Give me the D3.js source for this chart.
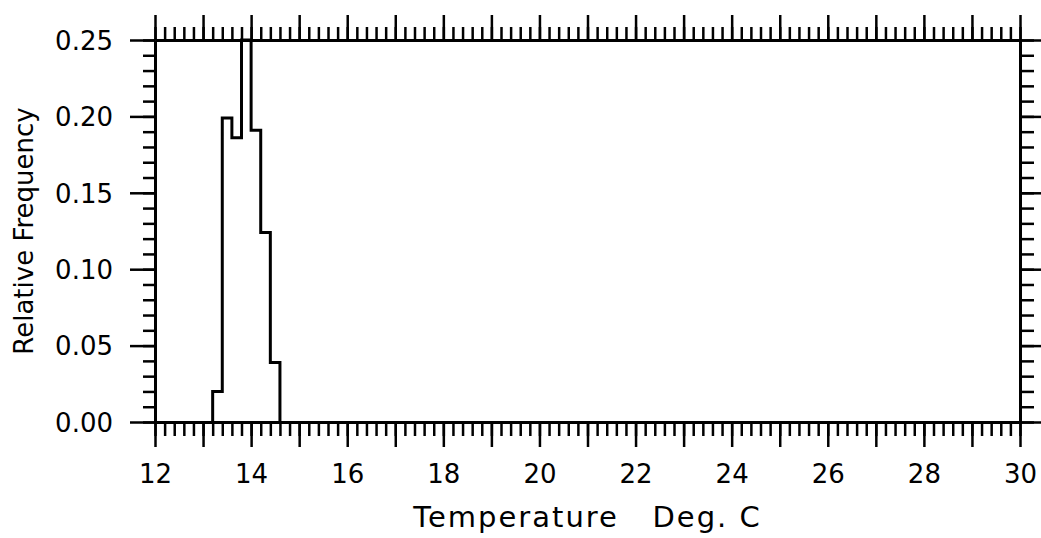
<!DOCTYPE html>
<html>
<head>
<meta charset="utf-8">
<script src="https://cdn.jsdelivr.net/npm/d3@7"></script>
<style>
  html, body { margin: 0; padding: 0; background: #fff; }
  svg { display: block; }
  text { font-family: "DejaVu Sans", sans-serif; fill: #000; }
</style>
</head>
<body>
<svg id="chart" width="1041" height="538"></svg>
<script>
// ---- data ----
const binEdges = [13.2, 13.4, 13.6, 13.8, 14.0, 14.2, 14.4, 14.6];
const relFreq  = [0.020, 0.199, 0.186, 0.250, 0.191, 0.124, 0.039];
const xTickLabels = [12, 14, 16, 18, 20, 22, 24, 26, 28, 30];
const yTickLabels = [0.00, 0.05, 0.10, 0.15, 0.20, 0.25];
const xTitle = "Temperature   Deg. C";
const yTitle = "Relative Frequency";

// ---- layout ----
const L = 155, R = 1020, T = 40, B = 422;
const svg = d3.select("#chart");
const x = d3.scaleLinear().domain([12, 30]).range([L, R]);
const y = d3.scaleLinear().domain([0, 0.25]).range([B, T]);

const xMinor = d3.range(12, 30.0001, 0.2).map(v => +v.toFixed(1));
const xMajor = d3.range(12, 30.0001, 1);
const yMinor = d3.range(0, 0.25001, 0.01).map(v => +v.toFixed(2));
const yMajor = yTickLabels;

function styleAxis(g) {
  g.select(".domain").attr("stroke", "#000").attr("stroke-width", 3);
  g.selectAll(".tick line").attr("stroke", "#000").attr("stroke-width", 2.5);
}

// bottom axis: minor, major (with labels)
svg.append("g").attr("transform", `translate(0,${B})`)
  .call(d3.axisBottom(x).tickValues(xMinor).tickSize(14).tickSizeOuter(0).tickFormat(""))
  .call(styleAxis);
const bx = svg.append("g").attr("transform", `translate(0,${B})`)
  .call(d3.axisBottom(x).tickValues(xMajor).tickSize(25).tickSizeOuter(0)
        .tickFormat(d => xTickLabels.includes(d) ? d3.format("d")(d) : ""))
  .call(styleAxis);
bx.selectAll("text").attr("y", 61).attr("dy", null)
  .style("font-size", "26px").style("font-family", "'DejaVu Sans', sans-serif");

// top axis
svg.append("g").attr("transform", `translate(0,${T})`)
  .call(d3.axisTop(x).tickValues(xMinor).tickSize(13).tickSizeOuter(0).tickFormat(""))
  .call(styleAxis);
svg.append("g").attr("transform", `translate(0,${T})`)
  .call(d3.axisTop(x).tickValues(xMajor).tickSize(25).tickSizeOuter(0).tickFormat(""))
  .call(styleAxis);

// left axis
svg.append("g").attr("transform", `translate(${L},0)`)
  .call(d3.axisLeft(y).tickValues(yMinor).tickSize(12).tickSizeOuter(0).tickFormat(""))
  .call(styleAxis);
const ly = svg.append("g").attr("transform", `translate(${L},0)`)
  .call(d3.axisLeft(y).tickValues(yMajor).tickSize(25).tickPadding(17).tickSizeOuter(0)
        .tickFormat(d3.format(".2f")))
  .call(styleAxis);
ly.selectAll("text").attr("dy", "0.36em")
  .style("font-size", "26px").style("font-family", "'DejaVu Sans', sans-serif");

// right axis
svg.append("g").attr("transform", `translate(${R},0)`)
  .call(d3.axisRight(y).tickValues(yMinor).tickSize(14).tickSizeOuter(0).tickFormat(""))
  .call(styleAxis);
svg.append("g").attr("transform", `translate(${R},0)`)
  .call(d3.axisRight(y).tickValues(yMajor).tickSize(25).tickSizeOuter(0).tickFormat(""))
  .call(styleAxis);

// histogram outline (step)
const pts = [[binEdges[0], 0]];
relFreq.forEach((v, i) => { pts.push([binEdges[i], v]); pts.push([binEdges[i + 1], v]); });
pts.push([binEdges[binEdges.length - 1], 0]);
svg.append("path")
  .attr("d", d3.line().x(d => x(d[0])).y(d => y(d[1]))(pts))
  .attr("fill", "none").attr("stroke", "#000").attr("stroke-width", 3)
  .attr("stroke-linejoin", "miter");

// axis titles
svg.append("text")
  .attr("x", (407 + 768) / 2).attr("y", 527)
  .attr("text-anchor", "middle")
  .style("font-size", "29px").style("letter-spacing", "2px").style("white-space", "pre")
  .text(xTitle);

svg.append("text")
  .attr("transform", `translate(33,${231}) rotate(-90)`)
  .attr("text-anchor", "middle")
  .style("font-size", "26px")
  .text(yTitle);
</script>
</body>
</html>
